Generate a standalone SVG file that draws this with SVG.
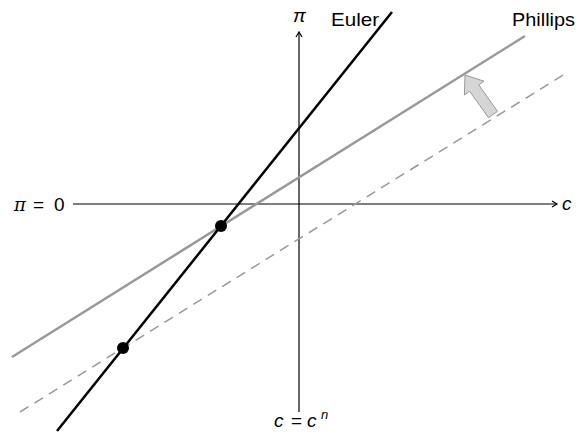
<svg xmlns="http://www.w3.org/2000/svg" width="579" height="436" viewBox="0 0 579 436">
<style>
.t{font-family:"Liberation Sans",Arial,sans-serif;font-size:19px;fill:#000}
.i{font-style:italic}
.ax{stroke:#000;stroke-width:1.2;fill:none}
</style>
<defs>
<marker id="ah" markerWidth="10" markerHeight="10" refX="8" refY="5" orient="auto" markerUnits="userSpaceOnUse">
<path d="M3,2 L8,5 L3,8" fill="none" stroke="#000" stroke-width="1.2"/>
</marker>
</defs>
<rect width="579" height="436" fill="#fff"/>
<g id="connectors">
<line id="c-axis" class="ax" x1="73" y1="204" x2="557" y2="204" marker-end="url(#ah)"/>
<line id="pi-axis" class="ax" x1="299" y1="412" x2="299" y2="32" marker-end="url(#ah)"/>
<line id="phillips-old" x1="20" y1="412" x2="568" y2="72" stroke="#999" stroke-width="1.5" stroke-dasharray="10,7"/>
<line id="phillips" x1="12" y1="357" x2="525" y2="36" stroke="#999" stroke-width="2.5"/>
<line id="euler" x1="57" y1="431" x2="392" y2="12" stroke="#000" stroke-width="2.5"/>
<polygon id="shift" points="465,75 484,81.2 478.7,84.9 497.5,111.3 488.5,117.7 469.7,91.3 464.4,95" fill="#d6d6d6" stroke="#999" stroke-width="1"/>
</g>
<g id="eq1"><circle cx="221" cy="226" r="6" fill="#000"/></g>
<g id="eq2"><circle cx="123" cy="348" r="6" fill="#000"/></g>
<g id="labels">
<text class="t i" x="293" y="22" font-size="18" font-family="'DejaVu Serif',serif">π</text>
<text class="t" x="331" y="26" textLength="48" lengthAdjust="spacingAndGlyphs">Euler</text>
<text class="t" x="512" y="26" textLength="63" lengthAdjust="spacingAndGlyphs">Phillips</text>
<text class="t" y="211"><tspan class="i" x="14" font-family="'DejaVu Serif',serif" font-size="18">π</tspan><tspan x="33">=</tspan><tspan x="54">0</tspan></text>
<text class="t i" x="562" y="210">c</text>
<text class="t" y="427"><tspan class="i" x="274">c</tspan><tspan x="291">=</tspan><tspan class="i" x="307">c</tspan><tspan class="i" font-size="13" x="321" dy="-8">n</tspan></text>
</g>
</svg>
